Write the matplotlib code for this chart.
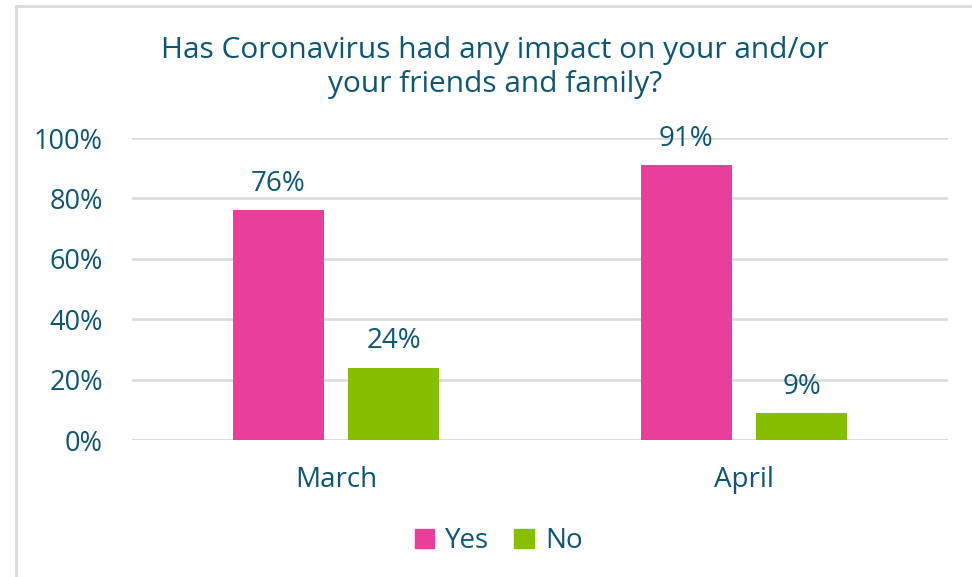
import numpy as np
import matplotlib.pyplot as plt
from matplotlib.lines import Line2D
from matplotlib.patches import Patch

months = ['March', 'April']
yes_pct = [76, 91]
no_pct = [24, 9]
y_ticks = [0, 20, 40, 60, 80, 100]

pink = '#E8409A'
green = '#86BE00'
ink = '#0F5670'
grid_grey = '#D9D9D9'

plt.rcParams['font.family'] = ['Open Sans', 'DejaVu Sans']

fig = plt.figure(figsize=(9.72, 5.77), dpi=100)
ax = fig.add_axes([0.1358, 0.2374, 0.8395, 0.5234])

x = np.arange(len(months))
width = 0.223
offset = 0.142
bars_yes = ax.bar(x - offset, yes_pct, width, color=pink, label='Yes', zorder=3)
bars_no = ax.bar(x + offset, no_pct, width, color=green, label='No', zorder=3)

for bars, vals in [(bars_yes, yes_pct), (bars_no, no_pct)]:
    for b, v in zip(bars, vals):
        ax.text(b.get_x() + b.get_width() / 2, v + 4, f'{v}%', ha='center', va='bottom',
                fontsize=20, color=ink, clip_on=False)

ax.set_xlim(-0.5, 1.5)
ax.set_ylim(0, 100)
ax.set_yticks(y_ticks)
ax.set_yticklabels([f'{t}%' for t in y_ticks], fontsize=19.5, color=ink)
ax.set_xticks(x)
ax.set_xticklabels(months, fontsize=20, color=ink)
ax.tick_params(axis='both', length=0)
ax.tick_params(axis='y', pad=21)
ax.tick_params(axis='x', pad=19)
ax.yaxis.grid(True, color=grid_grey, linewidth=1.8, zorder=0)
ax.axhline(0, color=grid_grey, linewidth=1.8, zorder=1)
for s in ax.spines.values():
    s.set_visible(False)

fig.text(0.509, 0.883, 'Has Coronavirus had any impact on your and/or\nyour friends and family?',
         ha='center', va='center', fontsize=21.5, color=ink, linespacing=1.25)

handles = [Patch(color=pink), Patch(color=green)]
fig.legend(handles, ['Yes', 'No'], loc='center', bbox_to_anchor=(0.513, 0.062), ncol=2,
           frameon=False, fontsize=20, labelcolor=ink, handlelength=0.7, handleheight=0.7,
           handletextpad=0.4, columnspacing=0.9)

# light frame along the top and left edges
fig.add_artist(Line2D([16 / 972, 1], [1 - 6 / 577, 1 - 6 / 577], color=grid_grey, linewidth=2))
fig.add_artist(Line2D([16 / 972, 16 / 972], [0, 1 - 6 / 577], color=grid_grey, linewidth=2))

fig.savefig('out.png', dpi=100, facecolor='white')
